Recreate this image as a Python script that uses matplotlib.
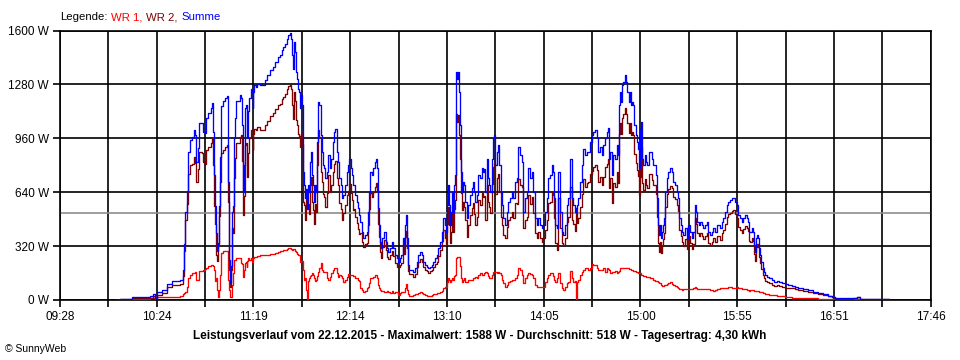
import numpy as np
import matplotlib
matplotlib.use("Agg")
import matplotlib.pyplot as plt

# ---------------- data ----------------
# time in minutes after midnight
zeit_min = [
 600.1, 602.4, 609.0, 619.5, 621.4, 622.6, 623.7, 626.2, 629.1, 631.9, 636.7, 638.2, 639.0, 639.7, 640.5,
 641.4, 642.4, 643.7, 644.7, 645.4, 646.0, 646.8, 647.7, 649.1, 650.0, 650.8, 651.5, 652.7, 654.2, 655.0,
 655.5, 656.1, 656.7, 657.3, 657.8, 658.4, 659.0, 659.5, 660.1, 661.1, 662.6, 663.4, 664.1, 664.6, 665.3,
 665.9, 666.2, 666.8, 667.6, 668.1, 668.7, 670.0, 671.0, 671.6, 672.1, 672.5, 672.9, 673.3, 673.9, 674.4,
 674.8, 675.2, 675.8, 676.3, 677.1, 677.7, 678.2, 678.6, 679.0, 680.1, 680.9, 682.4, 684.3, 685.3, 686.6,
 688.2, 689.7, 691.0, 692.4, 693.9, 694.8, 695.8, 696.7, 697.7, 698.6, 699.6, 700.2, 700.7, 701.5, 702.1,
 702.6, 703.0, 703.6, 704.2, 704.7, 705.3, 705.9, 706.4, 706.8, 707.2, 707.8, 708.4, 708.7, 709.3, 709.7,
 710.4, 711.0, 711.6, 712.2, 712.7, 713.3, 713.9, 714.5, 715.2, 715.8, 716.4, 717.1, 717.7, 718.3, 719.0,
 719.8, 720.6, 721.5, 722.5, 723.2, 724.0, 724.8, 725.5, 726.3, 727.0, 727.8, 728.6, 729.3, 730.1, 731.0,
 732.0, 733.0, 733.5, 734.3, 734.9, 735.4, 736.2, 736.9, 737.7, 738.5, 739.2,
 739.6, 740.6, 741.5, 742.5, 743.4, 744.0, 744.8, 745.3, 746.3, 747.3, 748.2, 748.8, 749.2, 749.7, 750.5,
 751.1, 751.6, 752.4, 753.4, 754.3, 754.9, 755.8, 756.8, 757.7, 758.7, 759.6, 760.6, 761.6, 762.5, 763.3,
 764.0, 764.8, 765.4, 765.7, 766.3, 766.9, 767.8, 769.2, 770.1, 771.1, 772.0, 773.0, 773.9, 774.9, 775.8,
 776.8, 777.8, 778.7, 779.7, 780.6, 781.6, 782.5, 783.5, 784.4, 785.4, 786.3, 787.3, 788.2, 788.8, 789.6,
 790.1, 790.7, 791.3, 791.9, 792.4, 793.0, 793.6, 794.1, 794.7, 795.3, 795.9, 796.4, 796.8, 797.2, 797.8,
 798.3, 799.1, 799.9, 800.6, 801.6, 802.5, 803.5, 804.1, 804.8, 805.6, 806.3, 807.3, 808.2, 809.2, 809.8,
 810.5, 811.3, 812.1, 812.8, 813.6,
 814.0, 814.9, 815.9, 816.4, 817.0, 817.8, 818.7, 819.3, 820.1, 820.8, 821.6, 822.5, 823.5, 824.5, 825.4,
 826.4, 827.3, 828.3, 829.2, 830.2, 831.1, 832.1, 833.0, 834.0, 835.0, 835.9, 836.8, 837.8, 838.8, 839.7,
 840.7, 841.6, 842.6, 843.5, 844.5, 845.4, 846.4, 847.3, 848.3, 849.2, 849.8, 850.6, 851.3, 852.1, 853.0,
 854.0, 855.0, 855.9, 856.9, 857.8, 858.8, 859.7, 860.7, 861.6, 862.6, 863.1, 863.7, 864.5, 865.4, 866.4,
 867.3, 868.3, 869.2, 870.2, 871.2, 872.1, 873.1, 874.0, 875.0, 875.9, 876.9, 877.8, 878.8, 879.7, 880.7,
 881.3, 881.8, 882.6, 883.5, 884.5, 885.4, 886.4, 887.4, 888.0,
 888.3, 888.9, 889.5, 890.2, 891.0, 891.8, 892.5, 893.3, 894.0, 894.6, 895.4, 895.9, 896.5, 897.3, 897.9,
 898.4, 899.0, 899.6, 900.1, 900.5, 901.1, 901.7, 902.4, 903.2, 903.9, 904.7, 905.5, 906.4, 907.4, 908.3,
 908.9, 909.5, 910.2, 910.8, 911.2, 911.8, 912.3, 913.1, 913.7, 914.2, 915.0, 916.0, 916.9, 917.9, 918.8,
 919.8, 920.7, 921.5, 922.3, 923.0, 923.8, 924.5, 925.5, 926.4, 927.4, 928.3, 929.3, 930.3, 931.0, 931.8,
 932.5, 933.3, 934.1, 935.0, 936.0, 936.9, 937.9, 938.8, 939.8, 940.7, 941.7, 942.6, 943.6, 944.6, 945.5,
 946.5, 947.4, 948.4, 949.3, 950.3, 951.2, 952.2, 953.1, 954.1, 955.0, 956.0, 956.9, 957.9, 958.8, 959.8,
 960.8, 961.7, 962.3,
 962.7, 963.6, 964.6, 965.1, 965.7, 966.3, 966.9, 967.4, 968.0, 968.6, 969.2, 969.9, 970.7, 971.4, 972.6,
 973.7, 975.1, 976.4, 977.9, 979.4, 980.8, 982.7, 984.6, 986.5, 988.4, 990.3, 993.2, 996.0, 998.9, 1001.7,
 1004.6, 1007.5, 1009.4, 1011.3, 1014.1, 1018.0, 1021.8, 1023.7, 1025.6, 1026.5, 1031.3, 1037.0, 1042.3,
]

# WR 1 (W)
wr1 = [
 0, 2, 8, 14, 14, 10, 18, 20, 20, 20, 22, 36, 40, 45, 80,
 130, 150, 160, 160, 165, 120, 120, 170, 175, 180, 185, 190, 200, 210, 210,
 200, 180, 110, 130, 60, 20, 60, 150, 280, 290, 290, 290, 120, 60, 20,
 20, 90, 160, 237, 237, 247, 247, 247, 220, 215, 200, 138, 180, 220, 228,
 198, 230, 247, 237, 247, 227, 247, 250, 257, 257, 260, 267, 267, 268, 270,
 274, 276, 280, 285, 290, 292, 296, 298, 302, 306, 310, 300, 296, 302, 300,
 290, 285, 275, 270, 265, 227, 230, 232, 210, 180, 120, 130, 60, 6, 110,
 128, 140, 150, 158, 150, 130, 110, 120, 140, 168, 190, 217, 178, 168, 168,
 168, 128, 118, 138, 160, 180, 190, 192, 158, 138, 148, 140, 128, 105, 118,
 138, 152, 150, 148, 148, 145, 140, 130, 128, 120, 110,
 70, 59, 49, 55, 69, 80, 100, 128, 130, 138, 148, 148, 128, 90, 70,
 59, 55, 52, 49, 50, 52, 45, 40, 54, 44, 49, 49, 30, 40, 49,
 45, 50, 69, 93, 60, 34, 26, 26, 30, 34, 34, 40, 45, 40, 34,
 30, 26, 26, 26, 28, 34, 36, 40, 44, 49, 55, 69, 75, 79, 109,
 128, 120, 109, 118, 128, 118, 140, 148, 247, 257, 257, 257, 200, 128, 109,
 118, 128, 109, 109, 118, 118, 118, 128, 130, 138, 128, 148, 158, 148, 150,
 158, 168, 158, 140, 128,
 128, 150, 168, 168, 168, 158, 168, 160, 150, 118, 100, 79, 89, 109, 110,
 118, 118, 128, 150, 188, 178, 148, 99, 128, 148, 158, 152, 148, 128, 89,
 75, 79, 79, 79, 79, 109, 128, 148, 158, 158, 140, 118, 109, 128, 158,
 99, 69, 59, 79, 99, 109, 172, 128, 109, 113, 0, 109, 118, 148, 168,
 178, 188, 188, 178, 188, 212, 208, 208, 188, 180, 178, 178, 188, 168, 188,
 185, 178, 158, 165, 168, 170, 158, 165, 170,
 188, 190, 192, 192, 192, 190, 188, 185, 185, 180, 178, 175, 170, 168, 165,
 160, 158, 158, 150, 150, 148, 145, 140, 138, 136, 134, 132, 128, 118, 115,
 113, 110, 105, 100, 99, 89, 85, 85, 89, 90, 95, 100, 105, 95, 89,
 85, 79, 73, 66, 65, 62, 63, 64, 64, 65, 65, 66, 72, 75, 70,
 68, 68, 68, 66, 65, 66, 68, 64, 59, 61, 56, 60, 63, 65, 69,
 69, 69, 72, 73, 75, 75, 73, 73, 73, 75, 69, 69, 65, 64, 63,
 59, 57, 56,
 59, 58, 57, 55, 54, 53, 53, 52, 50, 47, 45, 42, 40, 37, 33,
 30, 28, 27, 26, 24, 22, 20, 16, 14, 13, 12, 11, 10, 9, 8,
 6, 5, 5, 5, 4, 4, 4, 4, 4, np.nan, np.nan, np.nan, np.nan,
]

# WR 2 (W)
wr2 = [
 0, 6, 12, 12, 22, 2, 28, 42, 76, 92, 94, 144, 290, 475, 570,
 750, 800, 810, 850, 815, 700, 780, 880, 875, 820, 805, 890, 910, 930, 960,
 800, 560, 450, 270, 230, 320, 500, 700, 870, 890, 910, 920, 580, 180, 80,
 180, 430, 400, 723, 843, 933, 933, 968, 980, 825, 640, 502, 620, 920, 932,
 882, 730, 873, 963, 1008, 1008, 893, 985, 1018, 1008, 1025, 1008, 1008, 1037, 1065,
 1090, 1108, 1133, 1158, 1163, 1191, 1207, 1224, 1250, 1270, 1278, 1252, 1157, 1072, 1232,
 1180, 1069, 1040, 985, 971, 910, 985, 928, 828, 581, 562, 473, 600, 538, 572,
 512, 680, 730, 582, 532, 453, 572, 520, 799, 1008, 966, 762, 702, 632, 613,
 554, 633, 742, 643, 680, 759, 808, 826, 722, 682, 574, 542, 475, 518, 564,
 623, 648, 690, 633, 594, 537, 542, 493, 455, 424, 394,
 395, 346, 317, 330, 336, 444, 542, 633, 611, 643, 672, 692, 653, 454, 375,
 287, 251, 314, 356, 296, 254, 242, 266, 292, 262, 218, 198, 197, 207, 218,
 321, 276, 376, 411, 306, 173, 152, 152, 138, 154, 193, 227, 242, 227, 193,
 177, 172, 162, 172, 179, 193, 211, 227, 262, 297, 350, 415, 370, 326, 454,
 554, 443, 336, 406, 514, 406, 542, 593, 1107, 1058, 1097, 979, 838, 633, 533,
 584, 554, 474, 375, 445, 505, 544, 574, 512, 445, 495, 593, 564, 633, 611,
 619, 474, 682, 582, 554,
 514, 690, 791, 811, 632, 722, 751, 640, 492, 445, 384, 366, 435, 474, 493,
 524, 485, 574, 572, 721, 682, 672, 425, 475, 494, 623, 570, 613, 514, 395,
 370, 405, 366, 346, 366, 415, 475, 574, 583, 642, 621, 485, 336, 297, 603,
 425, 336, 326, 366, 464, 494, 668, 475, 454, 411, 544, 455, 485, 554, 632,
 721, 672, 692, 702, 751, 767, 790, 800, 771, 700, 731, 682, 731, 791, 810,
 839, 662, 722, 576, 692, 670, 761, 695, 987,
 1048, 986, 1083, 1103, 1142, 1105, 1048, 991, 1051, 977, 998, 982, 868, 811, 774,
 739, 623, 860, 730, 907, 692, 655, 720, 682, 664, 746, 748, 712, 682, 685,
 628, 493, 340, 285, 346, 277, 320, 360, 395, 552, 627, 661, 676, 666, 613,
 597, 563, 530, 418, 380, 343, 322, 361, 302, 380, 340, 300, 333, 488, 454,
 396, 377, 396, 379, 360, 379, 396, 341, 326, 344, 369, 345, 382, 380, 356,
 395, 415, 452, 490, 508, 518, 530, 534, 510, 488, 435, 415, 399, 420, 441,
 425, 407, 349,
 346, 367, 348, 271, 233, 313, 332, 314, 256, 220, 182, 146, 128, 111, 105,
 98, 91, 82, 87, 81, 77, 73, 73, 71, 66, 61, 54, 47, 40, 35,
 27, 21, 15, 5, 6, 6, 10, 16, 2, 6, 8, 4, 4,
]

# Summe (W)
summe = [
 0, 8, 20, 26, 36, 12, 46, 62, 96, 112, 116, 180, 330, 520, 650,
 880, 950, 970, 1010, 980, 820, 900, 1050, 1050, 1000, 990, 1080, 1110, 1140, 1170,
 1000, 740, 560, 400, 290, 340, 560, 850, 1150, 1180, 1200, 1210, 700, 240, 100,
 200, 520, 560, 960, 1080, 1180, 1180, 1215, 1200, 1040, 840, 640, 800, 1140, 1160,
 1080, 960, 1120, 1200, 1255, 1235, 1140, 1235, 1275, 1265, 1285, 1275, 1275, 1305, 1335,
 1364, 1384, 1413, 1443, 1453, 1483, 1503, 1522, 1552, 1576, 1588, 1552, 1453, 1374, 1532,
 1470, 1354, 1315, 1255, 1236, 1137, 1215, 1160, 1038, 761, 682, 603, 660, 544, 682,
 640, 820, 880, 740, 682, 583, 682, 640, 939, 1176, 1156, 979, 880, 800, 781,
 722, 761, 860, 781, 840, 939, 998, 1018, 880, 820, 722, 682, 603, 623, 682,
 761, 800, 840, 781, 742, 682, 682, 623, 583, 544, 504,
 465, 405, 366, 385, 405, 524, 642, 761, 741, 781, 820, 840, 781, 544, 445,
 346, 306, 366, 405, 346, 306, 287, 306, 346, 306, 267, 247, 227, 247, 267,
 366, 326, 445, 504, 366, 207, 178, 178, 168, 188, 227, 267, 287, 267, 227,
 207, 198, 188, 198, 207, 227, 247, 267, 306, 346, 405, 484, 445, 405, 563,
 682, 563, 445, 524, 642, 524, 682, 741, 1354, 1315, 1354, 1236, 1038, 761, 642,
 702, 682, 583, 484, 563, 623, 662, 702, 642, 583, 623, 741, 722, 781, 761,
 777, 642, 840, 722, 682,
 642, 840, 959, 979, 800, 880, 919, 800, 642, 563, 484, 445, 524, 583, 603,
 642, 603, 702, 722, 909, 860, 820, 524, 603, 642, 781, 722, 761, 642, 484,
 445, 484, 445, 425, 445, 524, 603, 722, 741, 800, 761, 603, 445, 425, 761,
 524, 405, 385, 445, 563, 603, 840, 603, 563, 524, 544, 564, 603, 702, 800,
 899, 860, 880, 880, 939, 979, 998, 1008, 959, 880, 909, 860, 919, 959, 998,
 1024, 840, 880, 741, 860, 840, 919, 860, 1157,
 1236, 1176, 1275, 1295, 1334, 1295, 1236, 1176, 1236, 1157, 1176, 1157, 1038, 979, 939,
 899, 781, 1018, 880, 1057, 840, 800, 860, 820, 800, 880, 880, 840, 800, 800,
 741, 603, 445, 385, 445, 366, 405, 445, 484, 642, 722, 761, 781, 761, 702,
 682, 642, 603, 484, 445, 405, 385, 425, 366, 445, 405, 366, 405, 563, 524,
 464, 445, 464, 445, 425, 445, 464, 405, 385, 405, 425, 405, 445, 445, 425,
 464, 484, 524, 563, 583, 593, 603, 607, 583, 563, 504, 484, 464, 484, 504,
 484, 464, 405,
 405, 425, 405, 326, 287, 366, 385, 366, 306, 267, 227, 188, 168, 148, 138,
 128, 119, 109, 113, 105, 99, 93, 89, 85, 79, 73, 65, 57, 49, 43,
 33, 26, 20, 10, 10, 10, 14, 20, 6, 6, 8, 4, 4,
]

durchschnitt = 518
y_ticks = [0, 320, 640, 960, 1280, 1600]
x_start, x_end = 568, 1066          # 09:28 .. 17:46
x_labels = ["09:28", "10:24", "11:19", "12:14", "13:10", "14:05",
            "15:00", "15:55", "16:51", "17:46"]

legend_parts = [("Legende:", "black"), ("WR 1,", "#ff0000"),
                ("WR 2,", "#800000"), ("Summe", "#0000ff")]
title_text = ("Leistungsverlauf vom 22.12.2015 - Maximalwert: 1588 W - "
              "Durchschnitt: 518 W - Tagesertrag: 4,30 kWh")

# ---------------- plot ----------------
plt.rcParams['font.family'] = ['Liberation Sans', 'DejaVu Sans']

fig = plt.figure(figsize=(9.6, 3.6), dpi=100, facecolor="white")
ax = fig.add_axes([60/960, 1 - 300/360, 870.7/960, 269.5/360])
ax.set_facecolor("white")

n_div = 18
grid_x = [x_start + i * (x_end - x_start) / n_div for i in range(n_div + 1)]
for gx in grid_x:
    ax.axvline(gx, color="black", lw=1.2, zorder=1)
for gy in y_ticks:
    ax.axhline(gy, color="black", lw=1.2, zorder=1)
ax.axhline(durchschnitt, color="#8c8c8c", lw=1.2, zorder=1)

t = np.array(zeit_min)
ax.plot(t, np.array(wr1, dtype=float), color="#ff0000", lw=0.95,
        drawstyle="steps-post", zorder=3)
ax.plot(t, np.array(wr2, dtype=float), color="#800000", lw=0.95,
        drawstyle="steps-post", zorder=4)
ax.plot(t, np.array(summe, dtype=float), color="#0000ff", lw=0.95,
        drawstyle="steps-post", zorder=5)

ax.set_xlim(x_start, x_end)
ax.set_ylim(0, 1600)

ax.set_xticks(grid_x)
lbls = []
for i in range(n_div + 1):
    lbls.append(x_labels[i // 2] if i % 2 == 0 else "")
ax.set_xticklabels(lbls, fontsize=8.5)
ax.set_yticks(y_ticks)
ax.set_yticklabels([f"{v} W" for v in y_ticks], fontsize=8.5)
ax.tick_params(axis="both", length=5, width=1.2, color="black", pad=3)
for s in ax.spines.values():
    s.set_color("black")
    s.set_linewidth(1.2)

# legend text at top-left
renderer = fig.canvas.get_renderer()
xpos = 60
for txt, col in legend_parts:
    tt = fig.text(xpos / 960, 1 - 20 / 360, txt, color=col, fontsize=8.2,
                  ha="left", va="baseline")
    bb = tt.get_window_extent(renderer=renderer)
    xpos += bb.width + 3.5

fig.text(480 / 960, 1 - 336 / 360, title_text, fontsize=8.5, fontweight="bold",
         ha="center", va="center")
fig.text(5 / 960, 1 - 349 / 360, "© SunnyWeb", fontsize=7.5, ha="left",
         va="center")

fig.savefig("out.png", dpi=100, facecolor="white")
